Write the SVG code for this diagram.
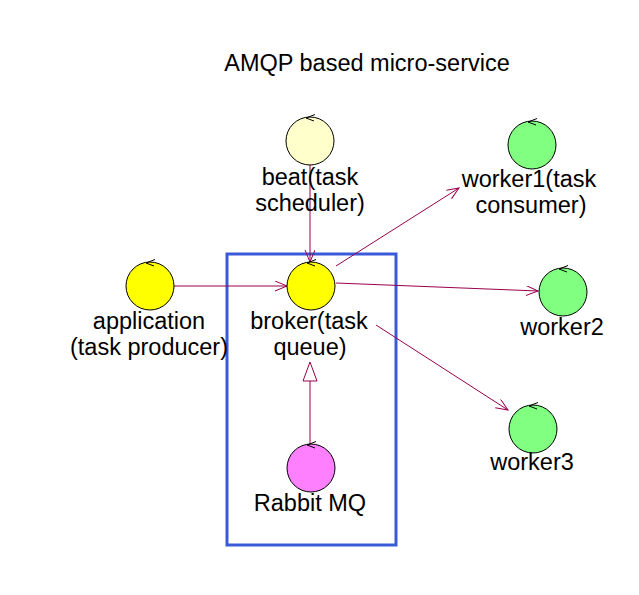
<svg xmlns="http://www.w3.org/2000/svg" width="639" height="595" viewBox="0 0 639 595">
<style>
text{font-family:"Liberation Sans",Arial,sans-serif;font-size:23.5px;fill:#000;text-anchor:middle}
.n{stroke:#000;stroke-width:1}
.t{fill:none;stroke:#000;stroke-width:1}
.e{fill:none;stroke:#99004c;stroke-width:1}
</style>
<defs>
<marker id="open" markerUnits="userSpaceOnUse" markerWidth="14" markerHeight="12" refX="12" refY="5" orient="auto" viewBox="0 0 14 12">
<path d="M0,0 L12,5 L0,10" fill="none" stroke="#99004c" stroke-width="1"/>
</marker>
</defs>
<rect width="639" height="595" fill="#fff"/>
<text x="367" y="71">AMQP based micro-service</text>
<rect id="boundary" x="227" y="254" width="169" height="291" fill="none" stroke="#3a5bd9" stroke-width="3"/>
<g id="connectors">
<line class="e" x1="174" y1="286" x2="287" y2="286" marker-end="url(#open)"/>
<line class="e" x1="310" y1="165" x2="310" y2="262" marker-end="url(#open)"/>
<line class="e" x1="336" y1="266" x2="459" y2="188" marker-end="url(#open)"/>
<line class="e" x1="336" y1="283" x2="538" y2="291" marker-end="url(#open)"/>
<line class="e" x1="376" y1="325" x2="508" y2="410" marker-end="url(#open)"/>
<line class="e" x1="310" y1="444" x2="310" y2="381"/>
<polygon points="310,362 317,381 303,381" fill="#fff" stroke="#99004c" stroke-width="1"/>
</g>
<g id="beat">
<circle class="n" cx="310" cy="141" r="24" fill="#ffffcc"/>
<polyline class="t" points="315,114.5 306,118 314,121"/>
<text x="310" y="185">beat(task</text>
<text x="310" y="211">scheduler)</text>
</g>
<g id="application">
<circle class="n" cx="150" cy="286" r="24" fill="#ffff00"/>
<polyline class="t" points="155,259.5 146,263 154,266"/>
<text x="149" y="329">application</text>
<text x="149" y="355">(task producer)</text>
</g>
<g id="broker">
<circle class="n" cx="311" cy="286" r="24" fill="#ffff00"/>
<polyline class="t" points="316,259.5 307,263 315,266"/>
<text x="309" y="329">broker(task</text>
<text x="310" y="355">queue)</text>
</g>
<g id="worker1">
<circle class="n" cx="532" cy="145" r="24" fill="#80ff80"/>
<polyline class="t" points="537,118.5 528,122 536,125"/>
<text x="529" y="187">worker1(task</text>
<text x="531" y="213">consumer)</text>
</g>
<g id="worker2">
<circle class="n" cx="563" cy="292" r="24" fill="#80ff80"/>
<polyline class="t" points="568,265.5 559,269 567,272"/>
<text x="562" y="335">worker2</text>
</g>
<g id="worker3">
<circle class="n" cx="533" cy="429" r="24" fill="#80ff80"/>
<polyline class="t" points="538,402.5 529,406 537,409"/>
<text x="532" y="470">worker3</text>
</g>
<g id="rabbitmq">
<circle class="n" cx="311" cy="468" r="24" fill="#ff80ff"/>
<polyline class="t" points="316,441.5 307,445 315,448"/>
<text x="310" y="511">Rabbit MQ</text>
</g>
</svg>
